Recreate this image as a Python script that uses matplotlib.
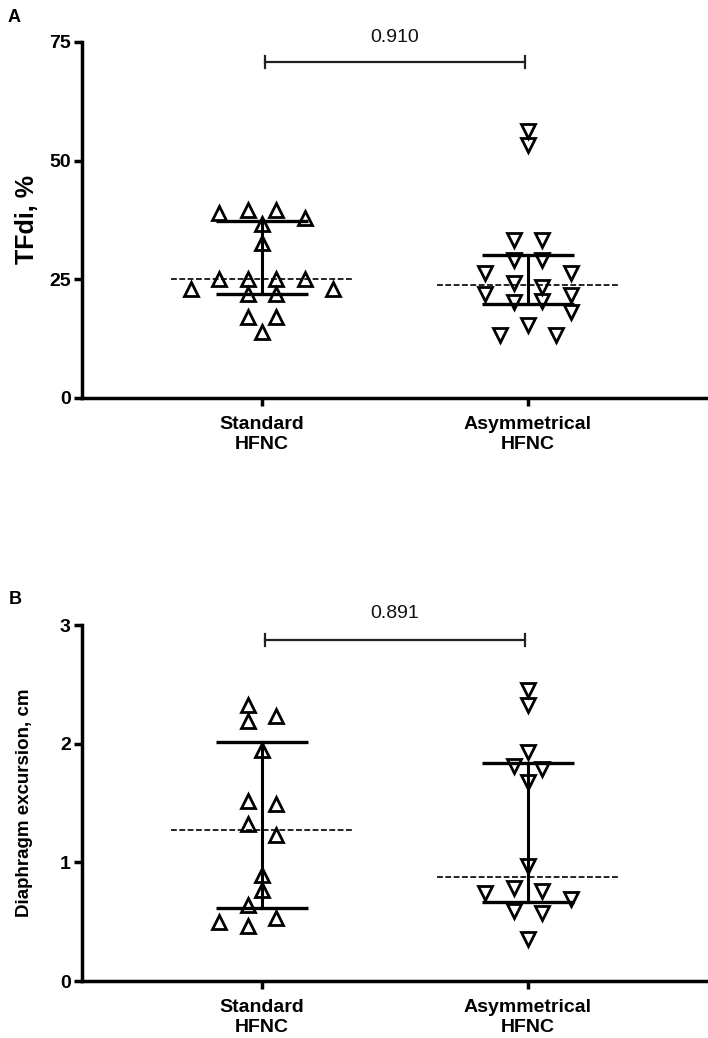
import numpy as np
import matplotlib
matplotlib.use("Agg")
import matplotlib.pyplot as plt

# ---------------- data ----------------
groups = ["Standard\nHFNC", "Asymmetrical\nHFNC"]

tfdi_standard = [39.7, 39.6, 39.0, 37.9, 36.7, 32.7, 25.0, 25.0, 25.0, 25.0,
                 22.9, 22.9, 21.9, 21.9, 17.1, 17.1, 14.0]
tfdi_asym = [56.3, 53.3, 33.3, 33.3, 29.1, 29.1, 26.4, 26.4, 24.3, 23.4,
             22.0, 21.7, 20.5, 20.3, 18.2, 15.4, 13.3, 13.3]

exc_standard = [2.33, 2.23, 2.19, 1.95, 1.52, 1.49, 1.32, 1.23, 0.89, 0.77,
                0.64, 0.53, 0.50, 0.46]
exc_asym = [2.45, 2.33, 1.93, 1.81, 1.79, 1.68, 0.97, 0.78, 0.76, 0.74,
            0.69, 0.59, 0.57, 0.35]

p_values = ["0.910", "0.891"]
yticks_a = [0, 25, 50, 75]
yticks_b = [0, 1, 2, 3]

# ---------------- style ----------------
FONT = "Liberation Sans"
plt.rcParams["font.family"] = [FONT, "DejaVu Sans"]

W, H = 708, 1038
fig = plt.figure(figsize=(W / 100, H / 100), dpi=100)


def rect(l, t, r, b):
    return [l / W, 1 - b / H, (r - l) / W, (b - t) / H]


XLIM = (1 - 180 / 266, 2 + 180 / 266)
UNIT = 14.2 / 266  # horizontal grid step for scatter


def swarm_offsets(vals, row_thresh, coll_thresh):
    """Group points into rows, centre each row, shift a row if it collides."""
    vals = np.asarray(vals, float)
    order = np.argsort(-vals, kind="stable")
    slots_of = {}
    placed = []  # (value, slot)
    i = 0
    while i < len(order):
        top = vals[order[i]]
        j = i
        while j < len(order) and top - vals[order[j]] <= row_thresh:
            j += 1
        row = list(order[i:j])
        n = len(row)
        base = sorted([2 * r - (n - 1) for r in range(n)],
                      key=lambda s: (abs(s), s))
        for shift in [0, -1, 1, -2, 2, -3, 3, -4, 4]:
            cand = [s + shift for s in base]
            ok = True
            for idx, s in zip(row, cand):
                for v, ps in placed:
                    if abs(v - vals[idx]) < coll_thresh and abs(ps - s) < 2:
                        ok = False
                        break
                if not ok:
                    break
            if ok:
                break
        for idx, s in zip(row, cand):
            slots_of[idx] = s
            placed.append((vals[idx], s))
        i = j
    return np.array([slots_of[k] for k in range(len(vals))]) * UNIT


def panel(ax, data_sets, ylim, yticks, ylabel, ylabel_size, label_x, pval,
          bracket_y, text_y, thresh_px):
    ax.set_xlim(*XLIM)
    ax.set_ylim(*ylim)
    py_per_unit = 356 / (ylim[1] - ylim[0])
    markers = ["^", "v"]
    for k, vals in enumerate(data_sets):
        x0 = k + 1
        vals = np.asarray(vals, float)
        offs = swarm_offsets(vals, thresh_px / py_per_unit, 13 / py_per_unit)
        q1, med, q3 = np.percentile(vals, [25, 50, 75], method="weibull")
        ax.plot([x0 - 0.342, x0 + 0.342], [med, med], color="black", lw=1.2,
                ls=(0, (3.5, 1.5)), zorder=2, solid_capstyle="butt")
        ax.plot([x0, x0], [q1, q3], color="black", lw=2.2, zorder=2)
        for q in (q1, q3):
            ax.plot([x0 - 0.173, x0 + 0.173], [q, q], color="black", lw=2.4,
                    zorder=2, solid_capstyle="butt")
        ax.plot(x0 + offs, vals, ls="none", marker=markers[k], ms=10.5,
                mfc="none", mec="black", mew=2.0, zorder=3, clip_on=False)

    for s in ("top", "right"):
        ax.spines[s].set_visible(False)
    for s in ("left", "bottom"):
        ax.spines[s].set_linewidth(2.5)
        ax.spines[s].set_capstyle("projecting")
    ax.set_yticks(yticks)
    ax.set_xticks([1, 2])
    ax.set_xticklabels(groups, fontsize=14, fontweight="bold",
                       linespacing=1.2)
    ax.tick_params(axis="both", direction="out", length=6, width=2.5, pad=2)
    ax.tick_params(axis="x", pad=7)
    for lab in ax.get_yticklabels():
        lab.set_fontsize(14)
        lab.set_fontweight("bold")

    trans = ax.get_xaxis_transform()
    y_br = 1 - (bracket_y) / 356
    x_l, x_r = 1 + 3 / 266, 2 - 3 / 266
    tick = 6 / 356
    ax.plot([x_l, x_r], [y_br, y_br], color="#222222", lw=1.6, transform=trans,
            clip_on=False)
    for xe in (x_l, x_r):
        ax.plot([xe, xe], [y_br - tick, y_br + tick], color="#222222", lw=1.6,
                transform=trans, clip_on=False)
    ax.text(1.5, 1 - text_y / 356, pval, transform=trans, ha="center",
            va="center", fontsize=14, color="#111111")

    top_px = (1 - ax.get_position().y1) * H
    fig.text(label_x / W, 1 - (top_px + 178) / H, ylabel,
             rotation=90, ha="center", va="center", fontsize=ylabel_size,
             fontweight="bold")


axA = fig.add_axes(rect(82, 42, 708, 398))
panel(axA, [tfdi_standard, tfdi_asym], (0, 75), yticks_a, "TFdi, %", 18, 27,
      p_values[0], 20, -4, 14)

axB = fig.add_axes(rect(82, 625, 708, 981))
panel(axB, [exc_standard, exc_asym], (0, 3), yticks_b,
      "Diaphragm excursion, cm", 13.5, 25, p_values[1], 15, -11, 14)

fig.text(8 / W, 1 - 18 / H, "A", fontsize=13, fontweight="bold",
         va="center", ha="left")
fig.text(9 / W, 1 - 600 / H, "B", fontsize=13, fontweight="bold",
         va="center", ha="left")

fig.savefig("out.png", dpi=100, facecolor="white")
